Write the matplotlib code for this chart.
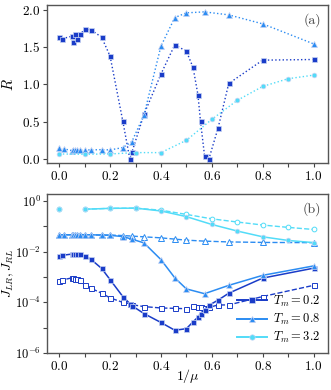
import matplotlib
matplotlib.use("Agg")
import matplotlib.pyplot as plt
import numpy as np
from matplotlib.ticker import MultipleLocator, NullFormatter, FixedLocator

plt.rcParams['font.family'] = 'serif'
plt.rcParams['font.serif'] = ['cmr10', 'DejaVu Serif']
plt.rcParams['mathtext.fontset'] = 'cm'
plt.rcParams['axes.formatter.use_mathtext'] = True
plt.rcParams['axes.unicode_minus'] = False

# ---- data ----
x_02 = [0, 0.01, 0.05, 0.0556, 0.0625, 0.0714, 0.0833, 0.1, 0.125, 0.1667, 0.2, 0.25,
        0.2778, 0.2857, 0.3333, 0.4, 0.4545, 0.5, 0.5263, 0.5455, 0.5556, 0.5714,
        0.5882, 0.625, 0.6667, 0.8, 1.0]
R_02 = [1.636, 1.609, 1.644, 1.573, 1.671, 1.604, 1.671, 1.738, 1.729, 1.631, 1.378, 0.511,
        0.0, 0.093, 0.60, 1.138, 1.529, 1.444, 1.227, 0.862, 0.507, 0.049,
        0.0, 0.422, 1.013, 1.324, 1.333]
JLR_02 = [6.8e-3, 7.2e-3, 8.1e-3, 8.3e-3, 8.3e-3, 8.1e-3, 7.9e-3, 6.6e-3, 5.0e-3, 2.2e-3,
          7.9e-4, 1.7e-4, 8.9e-5, 7.4e-5, 3.6e-5, 1.6e-5, 7.9e-6, 9.1e-6, 1.7e-5, 2.6e-5,
          3.6e-5, 5.2e-5, 7.6e-5, 1.23e-4, 2.3e-4, 9.1e-4, 2.24e-3]
JRL_02 = [7.2e-4, 7.6e-4, 9.3e-4, 8.9e-4, 8.5e-4, 8.3e-4, 7.6e-4, 4.8e-4, 3.6e-4, 2.3e-4,
          1.5e-4, 1.0e-4, 8.9e-5, 8.1e-5, 6.8e-5, 6.0e-5, 5.8e-5, 5.6e-5, 7.2e-5, 6.8e-5,
          6.3e-5, 5.8e-5, 6.3e-5, 7.9e-5, 7.9e-5, 1.7e-4, 4.7e-4]

x_08 = [0, 0.02, 0.05, 0.0556, 0.0625, 0.0714, 0.0833, 0.1, 0.125, 0.1667, 0.2, 0.25,
        0.2857, 0.3333, 0.4, 0.4545, 0.5, 0.5714, 0.6667, 0.8, 1.0]
R_08 = [0.147, 0.138, 0.116, 0.125, 0.13, 0.125, 0.125, 0.125, 0.125, 0.129, 0.125, 0.156,
        0.236, 0.59, 1.511, 1.893, 1.956, 1.969, 1.929, 1.809, 1.542]
JLR_08 = [0.0457, 0.0468, 0.0468, 0.0479, 0.0479, 0.0479, 0.0479, 0.0468, 0.0468, 0.0457,
          0.0447, 0.0398, 0.0316, 0.0224, 0.0049, 9.3e-4, 3.4e-4, 2.2e-4, 4.7e-4, 1.17e-3,
          2.75e-3]
JRL_08 = [0.0457, 0.0468, 0.0468, 0.0479, 0.0479, 0.0479, 0.0479, 0.0468, 0.0468, 0.0457,
          0.0457, 0.0437, 0.0417, 0.0389, 0.0355, 0.0316, 0.0288, 0.0263, 0.0245, 0.0234,
          0.0229]

x_32 = [0, 0.1, 0.2, 0.3, 0.4, 0.5, 0.6, 0.7, 0.8, 0.9, 1.0]
R_32 = [0.071, 0.067, 0.071, 0.089, 0.089, 0.253, 0.533, 0.787, 0.973, 1.076, 1.124]
JLR_32 = [0.48, 0.48, 0.52, 0.53, 0.41, 0.245, 0.12, 0.066, 0.039, 0.028, 0.023]
JRL_32 = [0.48, 0.48, 0.52, 0.53, 0.44, 0.30, 0.20, 0.15, 0.114, 0.092, 0.076]

labels = [r'$T_m = 0.2$', r'$T_m = 0.8$', r'$T_m = 3.2$']
colors = ['#1a3cc8', '#2b8cf2', '#52dcf8']
markers = ['s', '^', 'o']

fig = plt.figure(figsize=(3.31, 3.90), dpi=100)
ax1 = fig.add_axes([0.142, 0.582, 0.849, 0.405])
ax2 = fig.add_axes([0.142, 0.095, 0.849, 0.408])

series = [(x_02, R_02, JLR_02, JRL_02), (x_08, R_08, JLR_08, JRL_08), (x_32, R_32, JLR_32, JRL_32)]
msz = [3.6, 4.0, 3.4]
edge_light = '#c8d4f4'

for (x, R, jlr, jrl), c, m, lab, ms in zip(series, colors, markers, labels, msz):
    ax1.plot(x, R, ls=':', lw=1.0, color=c, marker=m, ms=ms, mec=edge_light, mew=0.5, mfc=c)
    xs = np.array(x)
    jl = np.array(jlr)
    jr = np.array(jrl)
    start = 1 if m == 'o' else 0
    ax2.plot(xs[start:], jr[start:], ls='--', lw=1.0, color=c)
    ax2.plot(xs, jr, ls='none', marker=m, ms=ms, mfc='white', mec=c, mew=0.7)
    ax2.plot(xs[start:], jl[start:], ls='-', lw=1.1, color=c)
    ax2.plot(xs, jl, ls='none', marker=m, ms=ms, mfc=c, mec=edge_light, mew=0.5)
    ax2.plot([], [], ls='-', lw=1.4, color=c, marker=m, ms=ms + 0.5, mfc=c, mec=edge_light,
             mew=0.5, label=lab)

for ax in (ax1, ax2):
    ax.set_xlim(-0.048, 1.057)
    ax.xaxis.set_major_locator(MultipleLocator(0.2))
    ax.xaxis.set_minor_locator(MultipleLocator(0.1))
    ax.tick_params(axis='both', which='both', direction='out', labelsize=9.5,
                   color='#444444', pad=2)
    ax.tick_params(which='both', length=3.0, width=0.8)
    for s in ax.spines.values():
        s.set_color('#555555')
        s.set_linewidth(1.0)

ax2.tick_params(axis='y', labelsize=9, pad=1.5)

ax1.set_ylim(-0.05, 2.06)
ax1.yaxis.set_major_locator(MultipleLocator(0.5))
ax1.set_ylabel(r'$R$', fontsize=10.5)
ax1.yaxis.set_label_coords(-0.112, 0.5)
ax1.text(0.975, 0.95, '(a)', transform=ax1.transAxes, ha='right', va='top', fontsize=10,
         color='#444444')

ax2.set_yscale('log')
ax2.set_ylim(1e-6, 1.95)
ax2.yaxis.set_major_locator(FixedLocator([1e-6, 1e-4, 1e-2, 1e0]))
ax2.yaxis.set_minor_locator(FixedLocator([1e-5, 1e-3, 1e-1]))
ax2.yaxis.set_minor_formatter(NullFormatter())
ax2.set_ylabel(r'$J_{LR}, J_{RL}$', fontsize=9.5)
ax2.yaxis.set_label_coords(-0.112, 0.5)
ax2.set_xlabel(r'$1/\mu$', fontsize=10)
ax2.xaxis.set_label_coords(0.5, -0.09)
ax2.text(0.975, 0.95, '(b)', transform=ax2.transAxes, ha='right', va='top', fontsize=10,
         color='#444444')
ax2.legend(loc='lower right', frameon=False, fontsize=9, handlelength=2.4,
           handletextpad=0.5, borderaxespad=0.2, labelspacing=0.25)

fig.savefig('out.png', dpi=100)
